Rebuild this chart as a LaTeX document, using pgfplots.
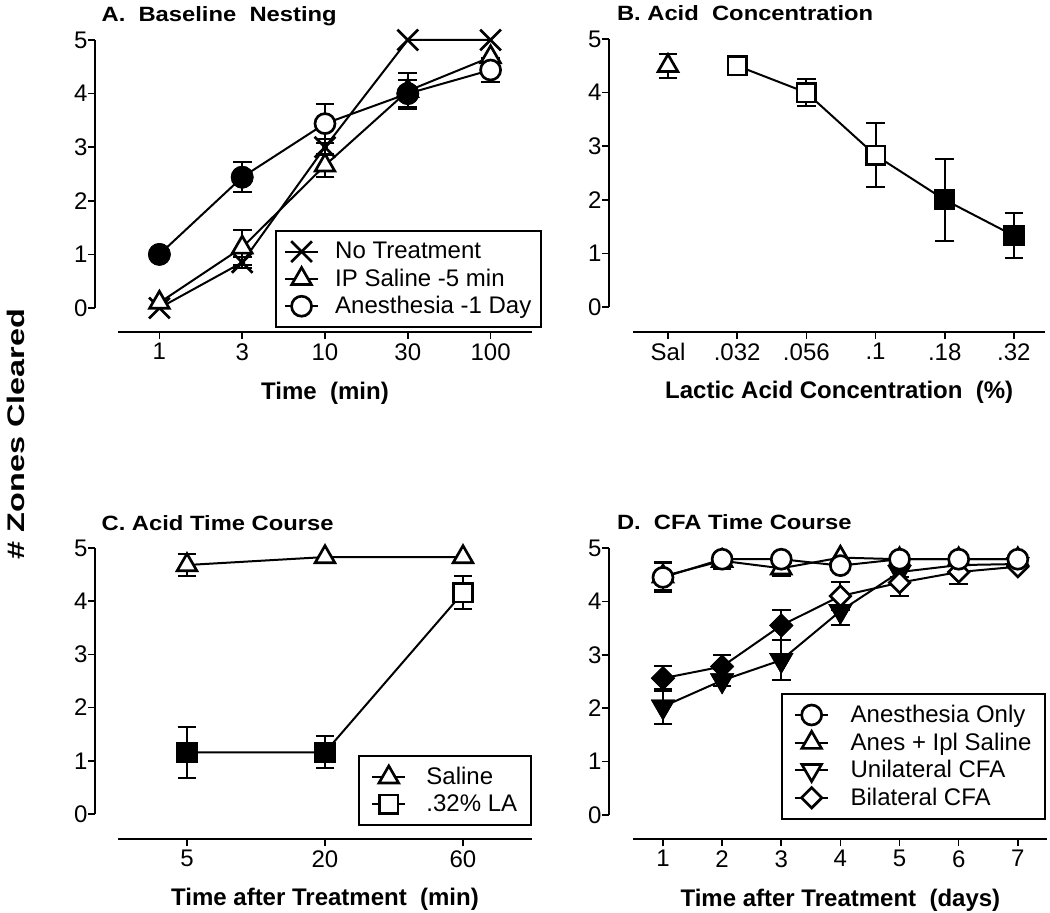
\documentclass[border=0pt]{standalone}
\usepackage{fontspec}
\setmainfont{Liberation Sans}
\usepackage{graphicx}
\usepackage{pgfplots}
\pgfplotsset{compat=1.18}

\newcommand{\tk}{\fontsize{18}{21}\selectfont}
\newcommand{\lb}{\fontsize{18}{21}\selectfont\bfseries}
\newcommand{\ttl}[1]{\scalebox{1.15}[1]{\fontsize{15.5}{18}\selectfont\bfseries #1}}

\pgfplotsset{
  prism/.style={
    scale only axis, clip=false,
    axis x line*=bottom, axis y line*=left,
    ymin=0, ymax=5, ytick={0,1,2,3,4,5},
    tick align=outside, major tick length=5pt,
    axis line style={-, line width=1.2pt, black},
    every tick/.style={black, line width=1.2pt},
    tick label style={font=\tk},
    yticklabel style={inner sep=0.5pt},
    /pgf/number format/assume math mode=true,
    xlabel style={font=\lb, at={(axis description cs:0.5,0)}, anchor=base, yshift=-68.5pt},
    title style={at={(axis description cs:0,1)}, anchor=base west, inner sep=0pt, xshift=-12.5pt, yshift=7.5pt},
    legend image code/.code={\draw[mark repeat=2, mark phase=2, ##1] plot coordinates {(0pt,0pt) (12.5pt,0pt) (25pt,0pt)};},
    legend style={draw=black, line width=1.5pt, font=\tk, anchor=north west,
      inner xsep=6pt, inner ysep=7.5pt, row sep=4pt, column sep=11pt,
      nodes={inner sep=1pt}, cells={anchor=west}},
  },
  err/.style={forget plot, only marks, mark=none,
    error bars/.cd, y dir=both, y explicit,
    error bar style={black, line width=1.5pt, solid},
    error mark options={rotate=90, mark size=7pt, line width=1.5pt, black}},
  ser/.style={black, line width=1.5pt, mark options={solid, fill=white, line width=2pt}},
  fil/.style={forget plot, only marks, black, mark options={solid, fill=black, line width=2pt}},
  mcirc/.style={mark=*, mark size=7.5pt},
  msq/.style={mark=square*, mark size=7pt},
  mtri/.style={mark=triangle*, mark size=8.5pt},
  mdown/.style={mark=triangle*, mark size=8.5pt, every mark/.append style={rotate=180}},
  mdia/.style={mark=square*, mark size=5.4pt, every mark/.append style={rotate=45}},
  mx/.style={mark=x, mark size=11pt},
}

\begin{document}
\begin{tikzpicture}
\path[use as bounding box] (0,0) rectangle (787.5pt,684.75pt);

\node[rotate=90, anchor=center] at (12pt,359.25pt)
  {\scalebox{1.35}[1]{\fontsize{18}{21}\selectfont\bfseries \# Zones Cleared}};

% ---------- A. Baseline Nesting
\begin{axis}[prism, at={(88.5pt,453.75pt)}, anchor=south west,
  width=310.5pt, height=201pt,
  xmin=-0.5, xmax=4.5, xtick={0,1,2,3,4}, xticklabels={1,3,10,30,100},
  axis x line shift=18pt, axis y line shift=17.25pt,
  xlabel={Time\ \ (min)},
  title={\ttl{A.\ \ Baseline\ \ Nesting}},
  legend style={at={(0.379,0.291)}}]
\addplot[err] coordinates {(1,0.85) +- (0,0.1) (2,3.0) +- (0,0.15)};
\addplot[err] coordinates {(1,1.13) +- (0,0.32) (2,2.66) +- (0,0.22) (3,4.05) +- (0,0.33)};
\addplot[err] coordinates {(1,2.44) +- (0,0.28) (2,3.44) +- (0,0.36) (3,4.0) +- (0,0.25) (4,4.44) +- (0,0.22)};
\addplot[ser, mx] coordinates {(0,0) (1,0.85) (2,3.0) (3,5) (4,5)};
\addlegendentry{No Treatment}
\addplot[ser, mtri] coordinates {(0,0.1) (1,1.13) (2,2.66) (3,4.05) (4,4.68)};
\addlegendentry{IP Saline -5 min}
\addplot[ser, mcirc] coordinates {(0,1.0) (1,2.44) (2,3.44) (3,4.0) (4,4.44)};
\addlegendentry{Anesthesia -1 Day}
\addplot[fil, mcirc] coordinates {(0,1.0) (1,2.44) (3,4.0)};
\end{axis}

% ---------- B. Acid Concentration
\begin{axis}[prism, at={(475.05pt,454.5pt)}, anchor=south west,
  width=308.7pt, height=201pt,
  xmin=-0.5, xmax=5.45, xtick={0,1,2,3,4,5}, xticklabels={Sal,.032,.056,.1,.18,.32},
  axis x line shift=18.75pt, axis y line shift=18.3pt,
  xlabel={Lactic Acid Concentration\ \ (\%)},
  title={\ttl{B.\ Acid\ \ Concentration}}]
\addplot[err] coordinates {(0,4.5) +- (0,0.22)};
\addplot[err] coordinates {(1,4.5) +- (0,0.05) (2,4.0) +- (0,0.25) (3,2.83) +- (0,0.6) (4,2.0) +- (0,0.77) (5,1.33) +- (0,0.42)};
\addplot[ser, mtri, only marks] coordinates {(0,4.5)};
\addplot[ser, msq] coordinates {(1,4.5) (2,4.0) (3,2.83) (4,2.0) (5,1.33)};
\addplot[fil, msq] coordinates {(4,2.0) (5,1.33)};
\end{axis}

% ---------- C. Acid Time Course
\begin{axis}[prism, at={(88.5pt,74.25pt)}, anchor=south west,
  width=310.5pt, height=199.5pt,
  xmin=-0.5, xmax=2.5, xtick={0,1,2}, xticklabels={5,20,60},
  axis x line shift=18.75pt, axis y line shift=17.25pt,
  xlabel={Time after Treatment\ \ (min)},
  title={\ttl{C.\ Acid Time Course}},
  legend style={at={(0.580,0.222)}, inner xsep=9pt, column sep=14pt}]
\addplot[err] coordinates {(0,4.68) +- (0,0.2)};
\addplot[err] coordinates {(0,1.16) +- (0,0.48) (1,1.16) +- (0,0.3) (2,4.16) +- (0,0.31)};
\addplot[ser, mtri] coordinates {(0,4.68) (1,4.83) (2,4.83)};
\addlegendentry{Saline}
\addplot[ser, msq] coordinates {(0,1.16) (1,1.16) (2,4.16)};
\addlegendentry{.32\% LA}
\addplot[fil, msq] coordinates {(0,1.16) (1,1.16)};
\end{axis}

% ---------- D. CFA Time Course
\begin{axis}[prism, at={(475.05pt,73.5pt)}, anchor=south west,
  width=310.5pt, height=200.25pt,
  xmin=0.5, xmax=7.5, xtick={1,2,3,4,5,6,7},
  axis x line shift=18pt, axis y line shift=18.3pt,
  xlabel={Time after Treatment\ \ (days)},
  title={\ttl{D.\ \ CFA Time Course}},
  legend style={at={(0.3565,0.457)}, inner xsep=9pt, column sep=15pt}]
\addlegendimage{ser, mcirc}
\addlegendentry{Anesthesia Only}
\addlegendimage{ser, mtri}
\addlegendentry{Anes + Ipl Saline}
\addlegendimage{ser, mdown}
\addlegendentry{Unilateral CFA}
\addlegendimage{ser, mdia}
\addlegendentry{Bilateral CFA}
\addplot[err] coordinates {(1,2.03) +- (0,0.33) (2,2.52) +- (0,0.1) (3,2.9) +- (0,0.38) (4,3.82) +- (0,0.27) (5,4.55) +- (0,0.1)};
\addplot[err] coordinates {(1,2.56) +- (0,0.23) (2,2.78) +- (0,0.22) (3,3.55) +- (0,0.28) (4,4.1) +- (0,0.27) (5,4.35) +- (0,0.25) (6,4.55) +- (0,0.23)};
\addplot[err] coordinates {(1,4.47) +- (0,0.25) (2,4.76) +- (0,0.15) (3,4.62) +- (0,0.15)};
\addplot[err] coordinates {(1,4.45) +- (0,0.28)};
\addplot[ser, mdown, forget plot] coordinates {(1,2.03) (2,2.52) (3,2.9) (4,3.82) (5,4.55) (6,4.68) (7,4.7)};
\addplot[fil, mdown] coordinates {(1,2.03) (2,2.52) (3,2.9) (4,3.82) (5,4.55)};
\addplot[ser, mdia, forget plot] coordinates {(1,2.56) (2,2.78) (3,3.55) (4,4.1) (5,4.35) (6,4.55) (7,4.65)};
\addplot[fil, mdia] coordinates {(1,2.56) (2,2.78) (3,3.55)};
\addplot[ser, mtri, forget plot] coordinates {(1,4.47) (2,4.76) (3,4.62) (4,4.82) (5,4.79) (6,4.79) (7,4.79)};
\addplot[ser, mcirc, forget plot] coordinates {(1,4.45) (2,4.79) (3,4.79) (4,4.67) (5,4.79) (6,4.79) (7,4.79)};
\end{axis}
\end{tikzpicture}
\end{document}
